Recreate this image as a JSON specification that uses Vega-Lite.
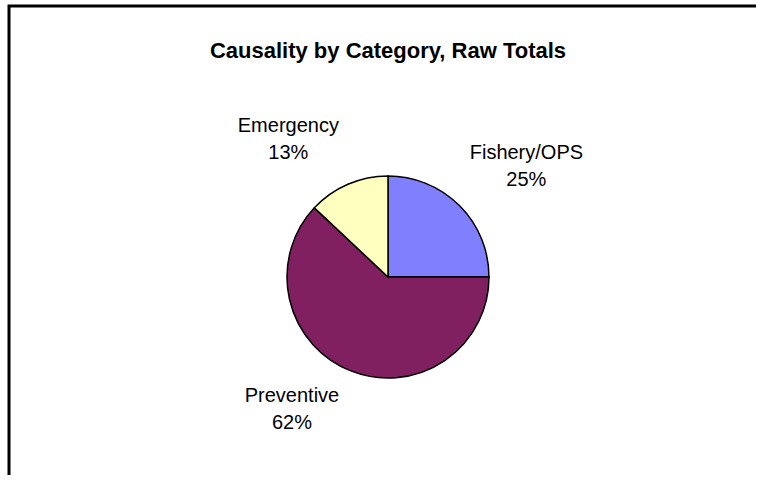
{
  "$schema": "https://vega.github.io/schema/vega-lite/v6.json",
  "width": 758,
  "height": 542,
  "autosize": {"type": "none"},
  "padding": {"left": 9, "top": 6, "right": -11, "bottom": -73},
  "background": "white",
  "view": {"stroke": "black", "strokeWidth": 3, "fill": "white"},
  "title": {
    "text": "Causality by Category, Raw Totals",
    "font": "Liberation Sans",
    "fontSize": 22,
    "fontWeight": "bold",
    "color": "black",
    "anchor": "middle",
    "frame": "group",
    "offset": -74,
    "baseline": "alphabetic"
  },
  "data": {
    "values": [
      {"category": "Fishery/OPS", "value": 25, "order": 1, "label": "Fishery/OPS\n25%"},
      {"category": "Preventive", "value": 62, "order": 2, "label": "Preventive\n62%"},
      {"category": "Emergency", "value": 13, "order": 3, "label": "Emergency\n13%"}
    ]
  },
  "encoding": {
    "theta": {"field": "value", "type": "quantitative", "stack": true},
    "order": {"field": "order", "type": "quantitative"}
  },
  "layer": [
    {
      "mark": {"type": "arc", "outerRadius": 101, "stroke": "black", "strokeWidth": 1.5},
      "encoding": {
        "color": {
          "field": "category",
          "type": "nominal",
          "scale": {"domain": ["Fishery/OPS", "Preventive", "Emergency"], "range": ["#8080FF", "#802060", "#FFFFC0"]},
          "legend": null
        }
      }
    },
    {
      "mark": {
        "type": "text",
        "radius": 125,
        "font": "Liberation Sans",
        "fontSize": 20,
        "color": "black",
        "lineBreak": "\n",
        "lineHeight": 27,
        "align": "center",
        "baseline": "middle",
        "dx": {"expr": "(datum.value_start + datum.value_end) / 2 > 50 ? -50 : 50"},
        "dy": {"expr": "((datum.value_start + datum.value_end) / 2 > 25 && (datum.value_start + datum.value_end) / 2 < 75) ? 3 : -36"}
      },
      "encoding": {
        "detail": {"field": "category", "type": "nominal"},
        "text": {"field": "label", "type": "nominal"}
      }
    }
  ]
}
